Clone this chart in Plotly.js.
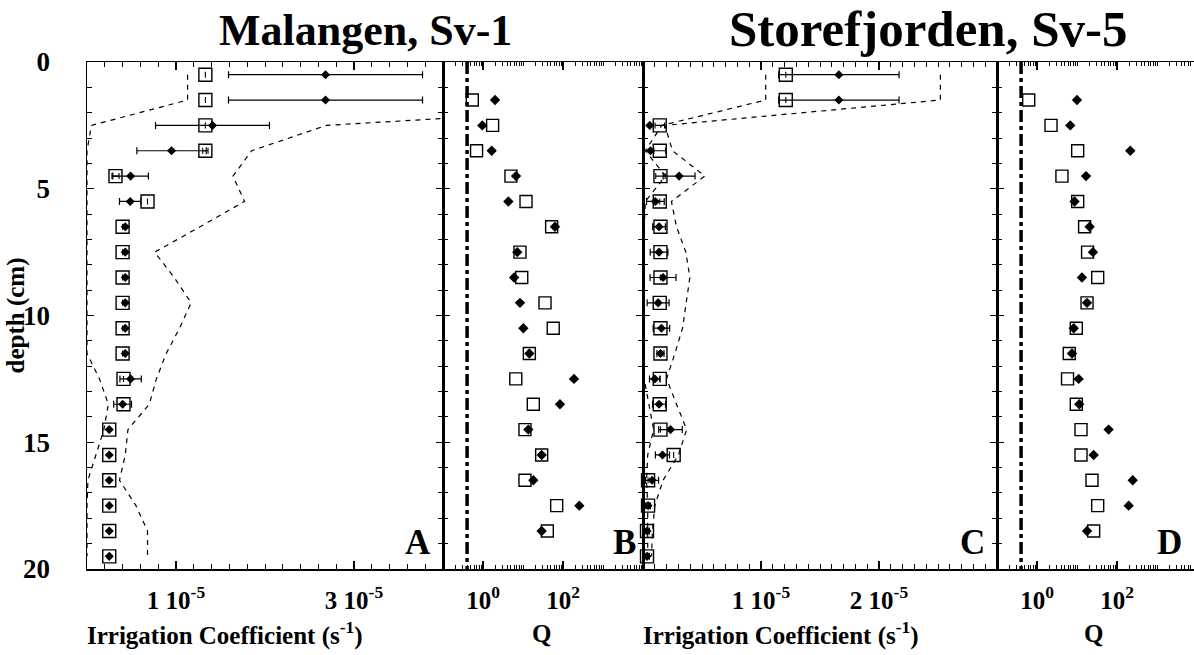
<!DOCTYPE html>
<html>
<head>
<meta charset="utf-8">
<script src="https://cdn.plot.ly/plotly-3.0.1.min.js"></script>
<style>
  html, body { margin: 0; padding: 0; background: #ffffff; }
  #chart { width: 1194px; height: 655px; }
</style>
</head>
<body>
<div id="chart"></div>
<script>
// Depth of each sampled layer (cm)
const depthAll = [0.5, 1.5, 2.5, 3.5, 4.5, 5.5, 6.5, 7.5, 8.5, 9.5, 10.5, 11.5, 12.5, 13.5, 14.5, 15.5, 16.5, 17.5, 18.5, 19.5];
const depthQ = [1.5, 2.5, 3.5, 4.5, 5.5, 6.5, 7.5, 8.5, 9.5, 10.5, 11.5, 12.5, 13.5, 14.5, 15.5, 16.5, 17.5, 18.5];

// Irrigation coefficients are listed in units of 1e-5 s^-1
const UNIT = 1e-5;

// Malangen, Sv-1
const malSquare     = [1.33, 1.33, 1.33, 1.33, 0.32, 0.68, 0.40, 0.40, 0.40, 0.40, 0.40, 0.40, 0.41, 0.41, 0.25, 0.25, 0.25, 0.25, 0.25, 0.25];
const malSquareErr  = [0, 0, 0, 0.03, 0.04, 0, 0, 0, 0, 0, 0, 0, 0, 0, 0, 0, 0, 0, 0, 0];
const malDiamond    = [2.68, 2.68, 1.41, 0.95, 0.49, 0.485, 0.43, 0.43, 0.43, 0.43, 0.43, 0.43, 0.49, 0.40, 0.25, 0.25, 0.25, 0.25, 0.25, 0.25];
const malDiamondErr = [1.09, 1.09, 0.64, 0.39, 0.20, 0.12, 0, 0, 0, 0, 0, 0, 0.12, 0.10, 0, 0, 0, 0, 0, 0];
const malLow        = [1.13, 1.13, 0.05, 0, 0, 0, 0, 0, 0, 0, 0, 0, 0.14, 0.24, 0.19, 0.10, 0.01, 0, 0, 0];
const malHigh       = [7.5, 7.5, 2.69, 1.85, 1.64, 1.77, 1.27, 0.76, 0.98, 1.17, 1.04, 0.89, 0.78, 0.70, 0.46, 0.43, 0.365, 0.55, 0.68, 0.68];
const malQSquare    = [0.54, 1.74, 0.69, 5.0, 11.9, 52, 8.4, 9.3, 35.5, 57, 14.4, 6.6, 18.1, 11.2, 29.3, 11.2, 69.5, 40.5];
const malQDiamond   = [2.0, 0.96, 1.65, 6.7, 4.3, 63, 7.2, 6.0, 8.4, 10.2, 14.4, 188, 84, 13.6, 29.3, 18.1, 256, 29.3];

// Storefjorden, Sv-5
const stoSquare     = [1.21, 1.21, 0.142, 0.142, 0.148, 0.142, 0.148, 0.148, 0.148, 0.142, 0.148, 0.148, 0.142, 0.142, 0.148, 0.26, 0.043, 0.043, 0.034, 0.034];
const stoSquareErr  = [0, 0, 0.04, 0.05, 0.04, 0, 0, 0, 0, 0, 0, 0, 0, 0, 0, 0, 0, 0, 0, 0];
const stoDiamond    = [1.66, 1.66, 0.057, 0.063, 0.306, 0.105, 0.136, 0.136, 0.17, 0.128, 0.156, 0.148, 0.10, 0.136, 0.233, 0.165, 0.077, 0.043, 0.034, 0.034];
const stoDiamondErr = [0.51, 0.51, 0, 0, 0.135, 0.075, 0.054, 0.075, 0.11, 0.093, 0.07, 0.03, 0.045, 0.055, 0.10, 0.06, 0.055, 0.02, 0.02, 0.02];
const stoLow        = [1.04, 1.04, 0.16, 0.02, 0.19, 0.02, 0.01, 0.01, 0.01, 0.01, 0.01, 0.01, 0.01, 0.05, 0.09, 0.04, 0.03, 0.04, 0.04, 0.04];
const stoHigh       = [2.52, 2.52, 0.185, 0.25, 0.524, 0.241, 0.284, 0.363, 0.397, 0.363, 0.335, 0.27, 0.20, 0.284, 0.37, 0.30, 0.17, 0.10, 0.08, 0.072];
const stoQSquare    = [0.62, 2.24, 10.4, 4.2, 10.4, 15.5, 18.4, 32.9, 17.8, 9.6, 6.4, 5.8, 9.6, 12.6, 12.6, 23.7, 32.9, 26.1];
const stoQDiamond   = [10, 6.8, 215, 16.8, 8.7, 20.7, 25.1, 13.3, 17.8, 8.3, 7.5, 11.0, 11.4, 61.7, 26.1, 247, 196, 17.8];

// Reference level of Q drawn as a dash-dot line
const qThreshold = 0.4;

// Labelled ticks
const coefTicksA = [1, 3];
const coefLabelsA = ['1 10<sup>-5</sup>', '3 10<sup>-5</sup>'];
const coefTicksC = [1, 2];
const coefLabelsC = ['1 10<sup>-5</sup>', '2 10<sup>-5</sup>'];
const qTicks = [1, 100];
const qLabels = ['10<sup>0</sup>', '10<sup>2</sup>'];
const depthTicks = [0, 5, 10, 15, 20];

const SERIF = '"Liberation Serif", "Times New Roman", serif';
const BLACK = '#000000';
const scale = arr => arr.map(v => v * UNIT);

function dashed(x, y, xa, ya) {
  return { x: x, y: y, xaxis: xa, yaxis: ya, type: 'scatter', mode: 'lines',
           line: { color: BLACK, width: 1.2, dash: '5px,5px' }, hoverinfo: 'skip' };
}
function squares(x, y, err, xa, ya, size) {
  const t = { x: x, y: y, xaxis: xa, yaxis: ya, type: 'scatter', mode: 'markers', cliponaxis: false,
              marker: { symbol: 'square-open', size: size, color: BLACK, line: { color: BLACK, width: 1.4 } } };
  if (err) t.error_x = { type: 'data', array: err, color: BLACK, thickness: 1.1, width: 3 };
  return t;
}
function diamonds(x, y, err, xa, ya, size) {
  const t = { x: x, y: y, xaxis: xa, yaxis: ya, type: 'scatter', mode: 'markers', cliponaxis: false,
              marker: { symbol: 'diamond', size: size, color: BLACK } };
  if (err) t.error_x = { type: 'data', array: err, color: BLACK, thickness: 1.2, width: 3.5 };
  return t;
}
function refLine(xa, ya) {
  return { x: [qThreshold, qThreshold], y: [0, 20], xaxis: xa, yaxis: ya, type: 'scatter', mode: 'lines',
           line: { color: BLACK, width: 3.5, dash: '12px,4px,4px,4px' }, hoverinfo: 'skip' };
}

const traces = [
  // Malangen coefficients
  dashed(scale(malLow), depthAll, 'x', 'y'),
  dashed(scale(malHigh), depthAll, 'x', 'y'),
  squares(scale(malSquare), depthAll, scale(malSquareErr), 'x', 'y', 13),
  diamonds(scale(malDiamond), depthAll, scale(malDiamondErr), 'x', 'y', 7),
  // Malangen Q
  refLine('x2', 'y2'),
  squares(malQSquare, depthQ, null, 'x2', 'y2', 12),
  diamonds(malQDiamond, depthQ, null, 'x2', 'y2', 8),
  // Storefjorden coefficients
  dashed(scale(stoLow), depthAll, 'x3', 'y3'),
  dashed(scale(stoHigh), depthAll, 'x3', 'y3'),
  squares(scale(stoSquare), depthAll, scale(stoSquareErr), 'x3', 'y3', 13),
  diamonds(scale(stoDiamond), depthAll, scale(stoDiamondErr), 'x3', 'y3', 7),
  // Storefjorden Q
  refLine('x4', 'y4'),
  squares(stoQSquare, depthQ, null, 'x4', 'y4', 12),
  diamonds(stoQDiamond, depthQ, null, 'x4', 'y4', 8)
];

const tickFont = { family: SERIF, size: 25, weight: 'bold', color: BLACK };
const depthTickFont = { family: SERIF, size: 27, weight: 'bold', color: BLACK };

function coefAxis(domain, range, vals, labels, minorStep, anchor) {
  return {
    domain: domain, range: range, type: 'linear', anchor: anchor,
    showline: true, linewidth: 1.5, linecolor: BLACK, mirror: 'ticks',
    ticks: 'inside', ticklen: 8, tickwidth: 1.2, tickcolor: BLACK,
    tickmode: 'array', tickvals: vals.map(v => v * UNIT), ticktext: labels,
    tickfont: tickFont, ticklabelstandoff: 8,
    minor: { ticks: 'inside', ticklen: 5, tickwidth: 1, tickcolor: BLACK,
             tickmode: 'linear', tick0: 0, dtick: minorStep * UNIT, showgrid: false },
    showgrid: false, zeroline: false, fixedrange: true
  };
}
function qAxis(domain, range, anchor) {
  return {
    domain: domain, range: range, type: 'log', anchor: anchor,
    showline: true, linewidth: 1.5, linecolor: BLACK, mirror: 'ticks',
    ticks: 'inside', ticklen: 8, tickwidth: 1.2, tickcolor: BLACK,
    tickmode: 'array', tickvals: qTicks, ticktext: qLabels,
    tickfont: tickFont, ticklabelstandoff: 8,
    minor: { ticks: 'inside', ticklen: 4, tickwidth: 1, tickcolor: BLACK, dtick: 'D1', showgrid: false },
    showgrid: false, zeroline: false, fixedrange: true
  };
}
function depthAxis(anchor, labels, mirror) {
  return {
    domain: [0, 1], range: [20, 0], anchor: anchor,
    showline: true, linewidth: 1.5, linecolor: BLACK, mirror: mirror,
    ticks: 'inside', ticklen: 7, tickwidth: 1.2, tickcolor: BLACK,
    tickmode: 'array', tickvals: depthTicks, showticklabels: labels,
    tickfont: depthTickFont, ticklabelstandoff: 30,
    minor: { ticks: 'inside', ticklen: 5, tickwidth: 1, tickcolor: BLACK, tickmode: 'linear', tick0: 0, dtick: 1, showgrid: false },
    showgrid: false, zeroline: false, fixedrange: true
  };
}

// Panel edges across the 1107 px wide plotting area
const W = 1107;
const dA = [0, 356 / W], dB = [356 / W, 556 / W], dC = [556 / W, 910 / W], dD = [910 / W, 1];

const labelFont = { family: SERIF, size: 25, weight: 'bold', color: BLACK };
const letterFont = { family: SERIF, size: 35, weight: 'bold', color: BLACK };

function letter(txt, ax, shift) {
  return { text: txt, xref: ax + ' domain', yref: 'paper', x: 1, y: 0, xanchor: 'right', yanchor: 'bottom',
           xshift: shift, yshift: 5, showarrow: false, font: letterFont };
}

const layout = {
  width: 1194, height: 655,
  margin: { l: 87, r: 0, t: 62, b: 86, pad: 0 },
  paper_bgcolor: '#ffffff', plot_bgcolor: '#ffffff',
  showlegend: false,
  xaxis:  coefAxis(dA, [0, 4 * UNIT], coefTicksA, coefLabelsA, 0.2, 'y'),
  xaxis2: qAxis(dB, [-1, 4], 'y2'),
  xaxis3: coefAxis(dC, [0, 3 * UNIT], coefTicksC, coefLabelsC, 0.1, 'y3'),
  xaxis4: qAxis(dD, [-1, -1 + 197 / 40], 'y4'),
  yaxis:  depthAxis('x', true, 'ticks'),
  yaxis2: depthAxis('x2', false, 'ticks'),
  yaxis3: depthAxis('x3', false, 'ticks'),
  yaxis4: depthAxis('x4', false, false),
  annotations: [
    { text: 'Malangen, Sv-1', xref: 'paper', yref: 'paper', x: 278 / W, y: 1, xanchor: 'center', yanchor: 'middle',
      yshift: 32, showarrow: false, font: { family: SERIF, size: 44, weight: 'bold', color: BLACK } },
    { text: 'Storefjorden, Sv-5', xref: 'paper', yref: 'paper', x: 841 / W, y: 1, xanchor: 'center', yanchor: 'middle',
      yshift: 33, showarrow: false, font: { family: SERIF, size: 51, weight: 'bold', color: BLACK } },
    { text: 'Irrigation Coefficient (s<sup>-1</sup>)', xref: 'x domain', yref: 'paper', x: 0, y: 0,
      xanchor: 'left', yanchor: 'middle', xshift: -2, yshift: -64, showarrow: false, font: labelFont },
    { text: 'Q', xref: 'x2 domain', yref: 'paper', x: 0.5, y: 0,
      xanchor: 'center', yanchor: 'middle', xshift: -2, yshift: -64, showarrow: false, font: labelFont },
    { text: 'Irrigation Coefficient (s<sup>-1</sup>)', xref: 'x3 domain', yref: 'paper', x: 0, y: 0,
      xanchor: 'left', yanchor: 'middle', xshift: -2, yshift: -64, showarrow: false, font: labelFont },
    { text: 'Q', xref: 'x4 domain', yref: 'paper', x: 0.5, y: 0,
      xanchor: 'center', yanchor: 'middle', xshift: -2, yshift: -64, showarrow: false, font: labelFont },
    { text: 'depth (cm)', xref: 'paper', yref: 'paper', x: -72 / W, y: 0.5, xanchor: 'center', yanchor: 'middle',
      textangle: -90, showarrow: false, font: { family: SERIF, size: 25, weight: 'bold', color: BLACK } },
    letter('A', 'x', -10),
    letter('B', 'x2', -5),
    letter('C', 'x3', -10),
    letter('D', 'x4', -10)
  ]
};

Plotly.newPlot('chart', traces, layout, { staticPlot: true, displayModeBar: false });
</script>
</body>
</html>
